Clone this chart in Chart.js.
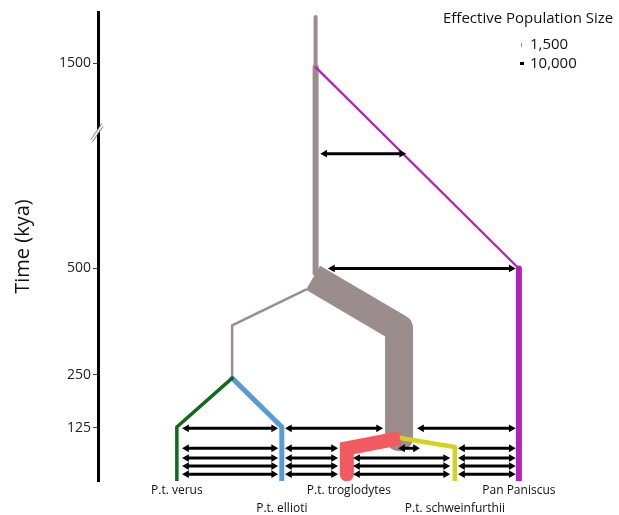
<!DOCTYPE html>
<html>
<head>
<meta charset="utf-8">
<script src="https://cdn.jsdelivr.net/npm/chart.js@4.4.0/dist/chart.umd.min.js"></script>
<style>
html, body { margin: 0; padding: 0; background: #fff; }
#wrap { width: 619px; height: 515px; }
</style>
</head>
<body>
<div id="wrap"><canvas id="chart"></canvas></div>
<script>
// ================== Axis ==================
const tickTimes = [125, 250, 500, 1500];
const tickLabels = ["125", "250", "500", "1500"];
const breakAt = 820;      // kya, axis is cut here
const squeeze = 0.24;     // scale above the cut
const topTime = 2000;

function toAxis(t) {
  return t <= breakAt ? t : breakAt + (t - breakAt) * squeeze;
}

// ================== Populations ==================
// lane = horizontal slot of the deme, times in kya
const popNames = ["P.t. verus", "P.t. ellioti", "P.t. troglodytes", "P.t. schweinfurthii", "Pan Paniscus"];
const popLanes = [15.4, 35.9, 49.0, 69.7, 82.2];
const popRow = [0, 1, 0, 1, 0];

// branches: [lane, time] points
const rootTop = [[42.5, 1950], [42.5, 1460]];
const rootLow = [[42.5, 1460], [42.5, 490]];
const ancEast = [[42.0, 478], [58.8, 359], [58.8, 103]];
const ancWest = [[40.6, 450], [26.2, 366], [26.2, 242]];
const verus = [[26.2, 242], [15.4, 127], [15.4, 0]];
const ellioti = [[26.2, 242], [35.9, 127], [35.9, 0]];
const troglodytes = [[59.0, 101], [48.6, 77], [48.6, 16]];
const schweinfurthii = [[59.0, 101], [69.7, 80], [69.7, 0]];
const paniscusSplit = [[42.5, 1460], [82.2, 500]];
const paniscus = [[82.2, 500], [82.2, 0]];

// migrations: [time, lane from, lane to]
const migrations = [
  [770, 44.3, 59.3],
  [500, 45.8, 80.7],
  [124, 17.3, 34.3], [124, 37.4, 54.8], [124, 63.2, 80.7],
  [77, 17.3, 34.3], [77, 37.4, 46.0], [77, 59.5, 62.0], [77, 71.2, 80.7],
  [54, 17.3, 34.3], [54, 37.4, 46.0], [54, 50.7, 67.9], [54, 71.2, 80.7],
  [35, 17.3, 34.3], [35, 37.4, 46.0], [35, 50.7, 67.9], [35, 71.2, 80.7],
  [16, 17.3, 34.3], [16, 37.4, 46.0], [16, 50.7, 67.9], [16, 71.2, 80.7],
];

const GREY = "#9b8d8d";
const PURPLE = "#b41fbd";

function branch(pts, color, width, opts = {}) {
  return Object.assign({
    data: pts.map(([l, t]) => ({ x: l, y: toAxis(t) })),
    showLine: true,
    borderColor: color,
    backgroundColor: color,
    borderWidth: width,
    borderCapStyle: "round",
    borderJoinStyle: "round",
    pointRadius: 0,
    order: 2,
  }, opts);
}

const datasets = [
  branch(ancEast, GREY, 28, { borderCapStyle: "butt", order: 4 }),
  branch(rootTop, GREY, 4, { order: 3 }),
  branch(rootLow, GREY, 6, { order: 3 }),
  branch(ancWest, GREY, 2.5, { order: 3 }),
  branch(verus, "#12691a", 3.5),
  branch(ellioti, "#5b9bd5", 5),
  branch(schweinfurthii, "#d3d322", 4.5),
  branch(troglodytes, "#f15a5e", 14, {
    borderCapStyle: "butt",
    borderJoinStyle: "miter",
    pointRadius: (c) => (c.dataIndex === 2 ? 7 : 0),
    pointBorderWidth: 0,
    order: 1,
  }),
  branch(paniscusSplit, PURPLE, 2.2),
  branch(paniscus, PURPLE, 6),
];

migrations.forEach(([t, a, b]) => {
  datasets.push({
    data: [{ x: a, y: toAxis(t) }, { x: b, y: toAxis(t) }],
    showLine: true,
    borderColor: "#000",
    backgroundColor: "#000",
    borderWidth: 3,
    pointStyle: "triangle",
    pointRadius: 4.5,
    pointBorderWidth: 0,
    rotation: (c) => (c.dataIndex === 0 ? -90 : 90),
    order: 0,
  });
});

// ================== Text, legend, axis break ==================
const extras = {
  id: "extras",
  afterDraw(chart) {
    const { ctx, chartArea, scales } = chart;
    const x = scales.x, y = scales.y;
    ctx.save();

    // axis break
    const by = y.getPixelForValue(breakAt);
    const bx = chartArea.left - 1;
    ctx.fillStyle = "#fff";
    ctx.beginPath();
    ctx.moveTo(bx - 4, by + 4);
    ctx.lineTo(bx + 4, by - 8);
    ctx.lineTo(bx + 4, by - 4);
    ctx.lineTo(bx - 4, by + 8);
    ctx.closePath();
    ctx.fill();
    ctx.strokeStyle = "#777";
    ctx.lineWidth = 1;
    ctx.beginPath();
    ctx.moveTo(bx - 6, by + 7);
    ctx.lineTo(bx + 5, by - 9);
    ctx.moveTo(bx - 5, by + 10);
    ctx.lineTo(bx + 6, by - 6);
    ctx.stroke();

    // population labels
    ctx.fillStyle = "#111";
    ctx.font = "12px 'Open Sans'";
    ctx.textAlign = "center";
    ctx.textBaseline = "middle";
    popNames.forEach((name, i) => {
      ctx.fillText(name, x.getPixelForValue(popLanes[i]), chartArea.bottom + (popRow[i] ? 28 : 10));
    });

    // Ne legend
    ctx.textAlign = "left";
    ctx.font = "15px 'Open Sans'";
    ctx.fillText("Effective Population Size", 443, 19);
    ctx.fillText("1,500", 530, 45);
    ctx.fillText("10,000", 530, 64);
    ctx.fillStyle = "#999";
    ctx.fillRect(521, 43, 1, 4);
    ctx.fillStyle = "#000";
    ctx.fillRect(520, 62, 4, 3);

    ctx.restore();
  },
};

new Chart(document.getElementById("chart"), {
  type: "scatter",
  data: { datasets },
  options: {
    responsive: true,
    maintainAspectRatio: false,
    animation: false,
    layout: { padding: { top: 12, bottom: 34, right: 9, left: 0 } },
    plugins: { legend: { display: false }, tooltip: { enabled: false } },
    scales: {
      x: { type: "linear", min: 0, max: 100, display: false },
      y: {
        type: "linear",
        min: 0,
        max: toAxis(topTime),
        afterFit: (s) => { s.width = 98; },
        afterBuildTicks: (s) => { s.ticks = tickTimes.map((t) => ({ value: toAxis(t) })); },
        border: { display: true, color: "#000", width: 3 },
        grid: { drawOnChartArea: false, drawTicks: true, tickLength: 5, color: "#444", lineWidth: 1 },
        ticks: {
          color: "#222",
          font: { family: "'Open Sans'", size: 14 },
          padding: 2,
          callback: (v, i) => tickLabels[i],
        },
        title: {
          display: true,
          text: "Time (kya)",
          color: "#111",
          font: { family: "'Open Sans'", size: 20 },
          padding: { top: 11, bottom: 0 },
        },
      },
    },
  },
  plugins: [extras],
});
</script>
</body>
</html>
